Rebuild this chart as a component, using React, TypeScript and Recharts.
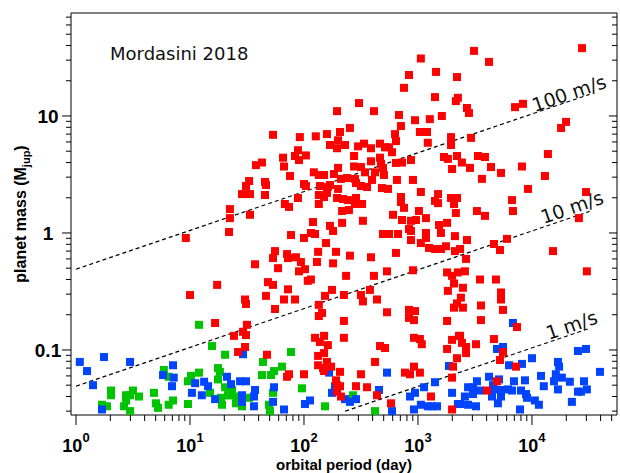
import { ScatterChart, Scatter, XAxis, YAxis, ReferenceLine, ReferenceDot } from 'recharts'

type Pt = [number, number]

// orbital period (day), planet mass (Mjup)
const redPlanets: Pt[] = [
  [3100, 36], [4200, 29], [27500, 38], [1060, 31], [834, 22.4], [1440, 23.8], [2200, 21.5], [754, 17.4],
  [1410, 14.5], [2240, 14.3], [2150, 13.4], [2690, 11.7], [2800, 10.6], [304, 12.9], [195, 11], [411, 11],
  [681, 10.2], [709, 8.2], [942, 9.2], [1270, 9.4], [1620, 10], [253, 7.9], [7100, 11.9], [8340, 12.7],
  [19900, 8.9], [18000, 7.9],
  [53.5, 6.9], [92, 6.6], [127, 6.7], [159, 7], [199, 6.2], [207, 7.3], [169, 5.65], [195, 5.3], [88.6, 5.1],
  [83.4, 4.55], [104, 4.6], [90.4, 4.2], [65.5, 4.4], [66.8, 3.7], [37.9, 3.8], [42.8, 4], [75.4, 3.07],
  [122, 3.3], [135, 3.13], [150, 3.13], [183, 3.19], [199, 3.6], [33, 2.78], [31, 2.52], [45.5, 2.73],
  [46.4, 2.57], [28.6, 2.15], [33.6, 2.15], [45.5, 2.11], [100, 2.62], [104, 2.52], [138, 2.52], [162, 2.47],
  [169, 2.57], [159, 2.2], [150, 2.03], [135, 2.11], [135, 1.77], [88.6, 1.99], [68, 1.77], [73.9, 1.67],
  [199, 2.38], [195, 1.99], [22.4, 1.6], [22.4, 1.34], [33.6, 1.43], [22, 1.02], [120, 1.24], [169, 1.15],
  [180, 1.04], [115, 1], [125, 0.98], [100, 0.906], [76.9, 0.96], [156, 0.82], [55.7, 0.7], [53.5, 0.61],
  [71, 0.66], [72.4, 0.61], [85, 0.62], [133, 0.69], [130, 0.565], [191, 0.69],
  [629, 7], [641, 6.1], [1040, 7.3], [1200, 7.3], [1950, 6.6], [1950, 5.65], [1220, 5.9], [229, 5.65],
  [298, 5.5], [336, 5.8], [387, 5.3], [464, 5.8], [514, 5.4], [557, 5.4], [592, 4.9], [275, 4.55], [464, 4.4],
  [387, 4.1], [474, 3.9], [275, 3.7], [316, 3.66], [343, 3.3], [420, 3.3], [493, 3.6], [503, 3.13], [641, 3.97],
  [724, 4], [868, 4.2], [1690, 4.46], [1830, 4.3], [2200, 4.55], [1990, 3.52], [211, 2.9], [238, 2.95],
  [280, 2.9], [286, 2.67], [316, 2.52], [357, 2.47], [395, 2.84], [483, 2.42], [546, 2.38], [654, 2.84],
  [904, 2.84], [1060, 2.24], [1500, 2.15], [220, 1.95], [243, 1.91], [286, 1.99], [280, 1.77], [323, 1.77],
  [709, 2.03], [709, 1.84], [754, 1.64], [1410, 1.88], [1500, 1.8], [1950, 1.99], [2200, 1.99], [2070, 1.77],
  [216, 1.54], [248, 1.57], [1020, 1.54], [2150, 1.48], [604, 1.43], [1175, 1.34], [724, 1.29], [868, 1.27],
  [960, 1.29], [1800, 1.22], [329, 1.27], [216, 1.22], [1530, 1.17], [834, 1.08], [868, 1.04], [1175, 1],
  [1590, 1], [493, 0.98], [557, 0.98], [668, 0.98], [2110, 0.94], [1175, 0.906], [868, 0.87], [1060, 0.82],
  [1250, 0.745], [1410, 0.73], [1590, 0.73], [1760, 0.77], [2110, 0.7], [253, 0.64], [387, 0.62], [641, 0.675],
  [2340, 0.73],
  [2920, 6.5], [2430, 4], [3360, 4.55], [3870, 4.46], [2860, 3.6], [4370, 3.66], [5350, 3.26], [3640, 2.9],
  [8170, 3.7], [13800, 4.73], [13000, 3.07], [9230, 2.38], [29800, 2.24], [25800, 1.34], [3290, 1.54],
  [3870, 1.4], [6680, 1.91], [6810, 1.54], [2690, 0.87], [4640, 0.805], [6040, 0.89], [5240, 0.715],
  [15300, 0.7], [2640, 0.6],
  [94, 0.565], [37.2, 0.54], [59.2, 0.5], [90.4, 0.47], [102, 0.49], [180, 0.55], [48.3, 0.38], [53.5, 0.36],
  [108, 0.39], [115, 0.4], [17.3, 0.36], [72.4, 0.33], [176, 0.326], [46.4, 0.29], [30.4, 0.27], [31, 0.247],
  [66.8, 0.27], [83.4, 0.27], [153, 0.29], [55.7, 0.224], [135, 0.243], [144, 0.207], [135, 0.195],
  [31.6, 0.164], [29.2, 0.143], [31, 0.134], [24.3, 0.132], [125, 0.127], [150, 0.132], [138, 0.117],
  [162, 0.11], [30.4, 0.106], [26.4, 0.096], [150, 0.094], [47.4, 0.091], [133, 0.089], [159, 0.079],
  [133, 0.074], [147, 0.07], [173, 0.072], [150, 0.066], [73.9, 0.062], [71, 0.059], [100, 0.062],
  [191, 0.055], [195, 0.05], [195, 0.044], [10, 0.295], [16.6, 0.17], [9.2, 0.906],
  [234, 0.43], [411, 0.43], [535, 0.47], [904, 0.48], [1800, 0.46], [1990, 0.43], [2240, 0.46], [2070, 0.37],
  [224, 0.295], [316, 0.295], [329, 0.26], [379, 0.326], [437, 0.27], [1830, 0.32], [2200, 0.25], [2070, 0.23],
  [535, 0.21], [834, 0.22], [942, 0.215], [834, 0.188], [922, 0.18], [224, 0.177], [1800, 0.177], [224, 0.127],
  [922, 0.127], [1040, 0.124], [1080, 0.112], [1990, 0.122], [2290, 0.132], [464, 0.108], [514, 0.104],
  [1800, 0.102], [2200, 0.085], [420, 0.079], [922, 0.072], [769, 0.064], [851, 0.062], [1040, 0.064],
  [207, 0.065], [316, 0.062], [2030, 0.072], [1990, 0.058], [207, 0.049], [286, 0.049], [357, 0.048],
  [211, 0.04], [437, 0.041], [1300, 0.04], [580, 0.035], [1990, 0.031],
  [2580, 0.47], [3500, 0.4], [4830, 0.4], [30300, 0.47], [2480, 0.34], [5350, 0.31], [2380, 0.28],
  [5350, 0.27], [2480, 0.23], [3570, 0.24], [5570, 0.22], [3570, 0.18], [7390, 0.157], [2340, 0.132],
  [2430, 0.115], [3230, 0.112], [4640, 0.124], [2640, 0.106], [2640, 0.094], [5570, 0.096], [5240, 0.082],
  [7240, 0.072], [4930, 0.054], [4030, 0.045],
]

const greenPlanets: Pt[] = [
  [12, 0.164], [15.6, 0.108], [20.3, 0.091], [5.9, 0.0675], [6.5, 0.059], [10.2, 0.06], [9.6, 0.054],
  [12, 0.064], [17.6, 0.07], [18.3, 0.065], [17.6, 0.056], [20.3, 0.048], [15, 0.043], [18.7, 0.039],
  [19.1, 0.034], [21.5, 0.041], [2.03, 0.045], [2.03, 0.041], [3.16, 0.045], [2.98, 0.041], [2.75, 0.041],
  [3.57, 0.04], [2.75, 0.037], [2.64, 0.033], [2.98, 0.03], [1.69, 0.034], [1.87, 0.033], [4.83, 0.043],
  [5.03, 0.035], [5.24, 0.032], [6.5, 0.034], [7.1, 0.037], [9.6, 0.0345], [43.7, 0.079], [76.9, 0.096],
  [64.1, 0.072], [54.6, 0.066], [42.8, 0.061], [51.4, 0.061], [23.4, 0.0455], [22, 0.041], [25.8, 0.04],
  [25.3, 0.035], [28.6, 0.033], [33, 0.039], [53.5, 0.043], [96, 0.047], [49.3, 0.034], [50.3, 0.03],
  [153, 0.033], [269, 0.041], [420, 0.03],
]

const bluePlanets: Pt[] = [
  [1.08, 0.079], [1.25, 0.066], [1.41, 0.05], [1.76, 0.087], [2.98, 0.079], [1.69, 0.031], [7.1, 0.074],
  [5.8, 0.061], [7.2, 0.058], [6.95, 0.049], [11.1, 0.052], [13.3, 0.0535], [14.4, 0.049], [10.4, 0.043],
  [12.7, 0.041], [16.6, 0.038], [21.1, 0.059], [29.2, 0.092], [22.9, 0.051], [27.5, 0.054], [31, 0.054],
  [37.2, 0.0455], [36.4, 0.04], [28.6, 0.041], [28.6, 0.036], [36.4, 0.033], [54.6, 0.048], [53.5, 0.036],
  [66.8, 0.031], [102, 0.0345], [113, 0.037], [166, 0.064], [176, 0.043], [187, 0.049], [535, 0.064],
  [229, 0.038], [253, 0.036], [286, 0.038], [455, 0.0455], [592, 0.03], [851, 0.04], [942, 0.043],
  [1130, 0.048], [1410, 0.053], [922, 0.031], [1060, 0.034], [1220, 0.033], [1330, 0.033], [1470, 0.033],
  [1870, 0.073], [1990, 0.043], [2240, 0.0345],
  [6810, 0.17], [4930, 0.102], [5570, 0.106], [10000, 0.085], [6290, 0.074], [8170, 0.076], [25300, 0.098],
  [29800, 0.102], [16900, 0.079], [17300, 0.072], [39500, 0.065], [16200, 0.062], [18300, 0.058],
  [12000, 0.06], [4200, 0.059], [5140, 0.056], [3290, 0.054], [6950, 0.054], [8680, 0.055], [12700, 0.049],
  [15600, 0.054], [21500, 0.0535], [28600, 0.054], [30300, 0.046], [16900, 0.046], [25300, 0.044],
  [26900, 0.044], [2750, 0.048], [3040, 0.048], [3500, 0.045], [3040, 0.042], [4550, 0.05], [4640, 0.046],
  [5350, 0.0455], [6160, 0.046], [6680, 0.045], [8010, 0.045], [8860, 0.042], [9050, 0.039], [4460, 0.04],
  [5350, 0.04], [2580, 0.04], [10600, 0.037], [11500, 0.034], [22400, 0.036], [5030, 0.035], [2340, 0.0345],
  [2750, 0.034], [3230, 0.033], [7850, 0.031],
]

// dashed RV semi-amplitude lines: [startP, startM, endP, endM]
const rvLines: [number, number, number, number][] = [
  [1, 0.49, 32000, 15.3],
  [1, 0.049, 32000, 1.53],
  [230, 0.03, 32000, 0.153],
]
const rvLabels = ['100 m/s', '10 m/s', '1 m/s']
const rvLabelP = [21100, 22400, 22200]
const rvLabelM = [15.7, 1.67, 0.164]

const xMajorTicks = [1, 10, 100, 1000, 10000]
const xTickExponents = ['0', '1', '2', '3', '4']
const xMinorTicks = [
  2, 3, 4, 5, 6, 7, 8, 9, 20, 30, 40, 50, 60, 70, 80, 90, 200, 300, 400, 500, 600, 700, 800, 900,
  2000, 3000, 4000, 5000, 6000, 7000, 8000, 9000, 20000, 30000, 40000, 50000,
]
const yMajorTicks = [0.1, 1, 10]
const yTickLabels = ['0.1', '1', '10']
const yMinorTicks = [
  0.03, 0.04, 0.05, 0.06, 0.07, 0.08, 0.09, 0.2, 0.3, 0.4, 0.5, 0.6, 0.7, 0.8, 0.9,
  2, 3, 4, 5, 6, 7, 8, 9, 20, 30, 40, 50, 60, 70,
]

const X_DOMAIN: [number, number] = [0.904, 55700]
const Y_DOMAIN: [number, number] = [0.0278, 75.9]

const xTicks = [...xMajorTicks, ...xMinorTicks].sort((a, b) => a - b)
const yTicks = [...yMajorTicks, ...yMinorTicks].sort((a, b) => a - b)

const toRows = (pts: Pt[]) => pts.map(([p, m]) => ({ p, m }))

const BOLD = '"Liberation Sans", Arial, Helvetica, sans-serif'
const PLAIN = '"DejaVu Sans", Verdana, sans-serif'

const square = (color: string) => (props: any) => {
  const { cx, cy } = props
  if (cx == null || cy == null) return <g />
  return <rect x={cx - 4} y={cy - 4} width={8} height={8} fill={color} />
}

const BottomTick = (props: any) => {
  const { x, y, payload } = props
  const idx = xMajorTicks.indexOf(payload.value)
  const major = idx >= 0
  return (
    <g>
      <line x1={x} x2={x} y1={y} y2={y + (major ? 10 : 6)} stroke="#000" />
      {major && (
        <text x={x} y={y + 37} textAnchor="middle" fontFamily={BOLD} fontWeight="bold" fontSize={18} fill="#000">
          <tspan>10</tspan>
          <tspan dy={-10} fontSize={13}>{xTickExponents[idx]}</tspan>
        </text>
      )}
    </g>
  )
}

const TopTick = (props: any) => {
  const { x, y, payload } = props
  const major = xMajorTicks.includes(payload.value)
  return <line x1={x} x2={x} y1={y} y2={y - (major ? 9 : 5)} stroke="#000" />
}

const LeftTick = (props: any) => {
  const { x, y, payload } = props
  const idx = yMajorTicks.indexOf(payload.value)
  const major = idx >= 0
  return (
    <g>
      <line x1={x} x2={x - (major ? 9 : 5)} y1={y} y2={y} stroke="#000" />
      {major && (
        <text x={x - 23} y={y} dy="0.36em" textAnchor="middle" fontFamily={BOLD} fontWeight="bold" fontSize={19} fill="#000">
          {yTickLabels[idx]}
        </text>
      )}
    </g>
  )
}

const RightTick = (props: any) => {
  const { x, y, payload } = props
  const major = yMajorTicks.includes(payload.value)
  return <line x1={x} x2={x - (major ? 8 : 5)} y1={y} y2={y} stroke="#000" />
}

const App = () => {
  return (
    <div style={{ position: 'absolute', left: 0, top: 0, width: 620, height: 473, background: '#fff' }}>
      <ScatterChart width={620} height={473} margin={{ top: 12, right: 2, bottom: 8, left: 0 }}>
        <XAxis
          xAxisId="b"
          type="number"
          dataKey="p"
          scale="log"
          domain={X_DOMAIN}
          allowDataOverflow
          ticks={xTicks}
          interval={0}
          height={50}
          tickSize={0}
          tickMargin={0}
          tickLine={false}
          axisLine={{ stroke: '#000' }}
          tick={(p: any) => <BottomTick {...p} />}
        />
        <XAxis
          xAxisId="t"
          orientation="top"
          type="number"
          scale="log"
          domain={X_DOMAIN}
          allowDataOverflow
          ticks={xTicks}
          interval={0}
          height={1}
          tickSize={0}
          tickMargin={0}
          tickLine={false}
          axisLine={{ stroke: '#000' }}
          tick={(p: any) => <TopTick {...p} />}
        />
        <YAxis
          yAxisId="l"
          type="number"
          dataKey="m"
          scale="log"
          domain={Y_DOMAIN}
          allowDataOverflow
          ticks={yTicks}
          interval={0}
          width={71}
          tickSize={0}
          tickMargin={0}
          tickLine={false}
          axisLine={{ stroke: '#000' }}
          tick={(p: any) => <LeftTick {...p} />}
        />
        <YAxis
          yAxisId="r"
          orientation="right"
          type="number"
          scale="log"
          domain={Y_DOMAIN}
          allowDataOverflow
          ticks={yTicks}
          interval={0}
          width={1}
          tickSize={0}
          tickMargin={0}
          tickLine={false}
          axisLine={{ stroke: '#000' }}
          tick={(p: any) => <RightTick {...p} />}
        />
        {rvLines.map(([p1, m1, p2, m2], i) => (
          <ReferenceLine
            key={`rv${i}`}
            xAxisId="b"
            yAxisId="l"
            segment={[{ x: p1, y: m1 }, { x: p2, y: m2 }]}
            stroke="#000"
            strokeWidth={1.2}
            strokeDasharray="4 3"
          />
        ))}
        <Scatter xAxisId="b" yAxisId="l" data={toRows(greenPlanets)} shape={square('#00c400')} isAnimationActive={false} />
        <Scatter xAxisId="b" yAxisId="l" data={toRows(bluePlanets)} shape={square('#0044ff')} isAnimationActive={false} />
        <Scatter xAxisId="b" yAxisId="l" data={toRows(redPlanets)} shape={square('#ff0000')} isAnimationActive={false} />
        {rvLabels.map((label, i) => (
          <ReferenceDot
            key={`lbl${i}`}
            xAxisId="b"
            yAxisId="l"
            x={rvLabelP[i]}
            y={rvLabelM[i]}
            r={0}
            shape={(p: any) => (
              <text
                x={p.cx}
                y={p.cy}
                transform={`rotate(-18.9 ${p.cx} ${p.cy})`}
                textAnchor="middle"
                dominantBaseline="central"
                fontFamily={PLAIN}
                fontSize={19}
                fill="#111"
              >
                {label}
              </text>
            )}
          />
        ))}
      </ScatterChart>
      <svg width={620} height={473} style={{ position: 'absolute', left: 0, top: 0, pointerEvents: 'none' }}>
        <text x={110} y={60} fontFamily={PLAIN} fontSize={18} fill="#111">Mordasini 2018</text>
        <text x={344} y={470} textAnchor="middle" fontFamily={BOLD} fontWeight="bold" fontSize={15} fill="#000">
          orbital period (day)
        </text>
        <text transform="translate(26,214) rotate(-90)" textAnchor="middle" fontFamily={BOLD} fontWeight="bold" fontSize={16} fill="#000">
          <tspan>planet mass (M</tspan>
          <tspan dy={4} fontSize={11}>jup</tspan>
          <tspan dy={-4} fontSize={16}>)</tspan>
        </text>
      </svg>
    </div>
  )
}

export default App
